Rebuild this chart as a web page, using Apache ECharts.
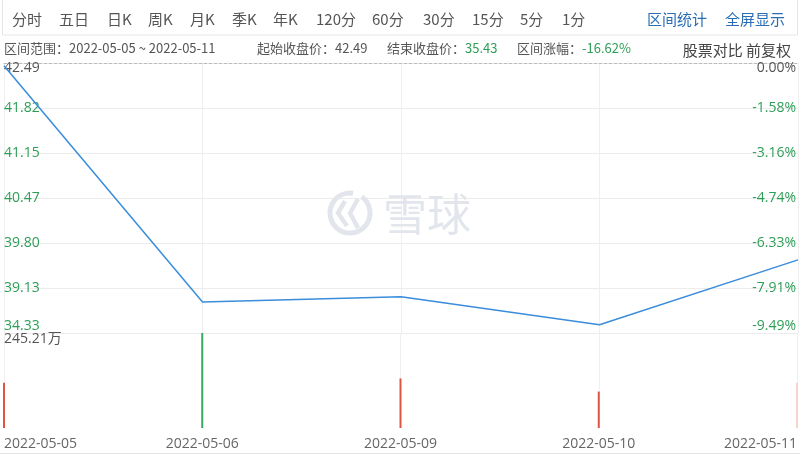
<!DOCTYPE html>
<html>
<head>
<meta charset="utf-8">
<script src="https://cdn.jsdelivr.net/npm/echarts@6/dist/echarts.min.js"></script>
<style>
html,body{margin:0;padding:0;background:#fff;}
#main{width:800px;height:456px;}
</style>
</head>
<body>
<div id="main"></div>
<script>
// ---- data ----
var categories = ['2022-05-05', '2022-05-06', '2022-05-09', '2022-05-10', '2022-05-11'];
var closePrices = [42.45, 38.92, 39.00, 38.58, 39.55];
var volumes = [117, 245.21, 128, 94, 117];          // 万
var volumeUp = [true, false, true, true, true];      // red = up, green = down
var priceTickLabels = ['34.33', '39.13', '39.80', '40.47', '41.15', '41.82', '42.49'];
var pctTickLabels = ['-9.49%', '-7.91%', '-6.33%', '-4.74%', '-3.16%', '-1.58%', '0.00%'];
var priceMin = 38.458, priceMax = 42.49;
var volumeMax = 245.21;
var toolbarItems = [['分时', 12], ['五日', 59], ['日K', 107], ['周K', 148], ['月K', 190], ['季K', 232], ['年K', 273],
  ['120分', 316], ['60分', 372], ['30分', 423], ['15分', 472], ['5分', 520], ['1分', 562]];

var FONT = '"Noto Sans CJK SC", "Microsoft YaHei", sans-serif';
var NUMFONT = '"Open Sans", "Noto Sans CJK SC", sans-serif';
var GREEN = '#2e9e57';
var RED = '#e0553f';

var chart = echarts.init(document.getElementById('main'));

var graphics = [
  {type: 'rect', shape: {x: 2.5, y: -1, width: 795, height: 36}, style: {fill: '#fff', stroke: '#e6e6e6', lineWidth: 1}, z: 0}
];
toolbarItems.forEach(function (t) {
  graphics.push({type: 'text', x: t[1], y: 19, style: {text: t[0], font: '15px ' + FONT, fill: '#555', verticalAlign: 'middle'}});
});
graphics.push({type: 'text', x: 647, y: 19, style: {text: '区间统计', font: '15px ' + FONT, fill: '#2a6db5', verticalAlign: 'middle'}});
graphics.push({type: 'text', x: 725, y: 19, style: {text: '全屏显示', font: '15px ' + FONT, fill: '#2a6db5', verticalAlign: 'middle'}});

graphics.push({type: 'text', x: 4, y: 48, style: {text: '区间范围：' + categories[0] + ' ~ ' + categories[categories.length - 1], font: '13px ' + FONT, fill: '#555', verticalAlign: 'middle'}});
graphics.push({type: 'text', x: 257, y: 48, style: {text: '起始收盘价：42.49', font: '13px ' + FONT, fill: '#555', verticalAlign: 'middle'}});
graphics.push({type: 'text', x: 387, y: 48, style: {text: '结束收盘价：{g|35.43}', font: '13px ' + FONT, fill: '#555', verticalAlign: 'middle',
  rich: {g: {fill: GREEN, font: '13px ' + FONT}}}});
graphics.push({type: 'text', x: 517, y: 48, style: {text: '区间涨幅：{g|-16.62%}', font: '13px ' + FONT, fill: '#555', verticalAlign: 'middle',
  rich: {g: {fill: GREEN, font: '13px ' + FONT}}}});
graphics.push({type: 'text', x: 791, y: 50, style: {text: '股票对比 前复权', font: '15px ' + FONT, fill: '#444', align: 'right', verticalAlign: 'middle'}});

// watermark
var WM = '#e2e6ec';
graphics.push({type: 'arc', shape: {cx: 350, cy: 213, r: 20, startAngle: -Math.PI * 0.3, endAngle: Math.PI * 1.55}, style: {stroke: WM, lineWidth: 5, fill: null}, z: 1});
graphics.push({type: 'polyline', shape: {points: [[345, 201], [338, 213], [347, 226]]}, style: {stroke: WM, lineWidth: 4.5, fill: null}, z: 1});
graphics.push({type: 'polyline', shape: {points: [[358, 199], [350, 213], [358, 228]]}, style: {stroke: WM, lineWidth: 4.5, fill: null}, z: 1});
graphics.push({type: 'text', x: 383, y: 214, style: {text: '雪球', font: '44px ' + FONT, fill: WM, verticalAlign: 'middle'}, z: 1});
// bottom slider baseline
graphics.push({type: 'line', shape: {x1: 0, y1: 453.5, x2: 800, y2: 453.5}, style: {stroke: '#e3e3e3', lineWidth: 1}});

var idxLabelRich = {
  top: {padding: [11, 0, 0, 0], fontSize: 14, fontFamily: NUMFONT},
  bot: {padding: [0, 0, 14, 0], fontSize: 14, fontFamily: NUMFONT},
  mid: {fontSize: 14, fontFamily: NUMFONT}
};

function idxFormatter(arr) {
  return function (v) {
    var i = Math.round(v);
    var s = arr[i];
    if (i === 6) return '{top|' + s + '}';
    if (i === 0) return '{bot|' + s + '}';
    return '{mid|' + s + '}';
  };
}
function idxColor(v) {
  return Math.round(v) === 6 ? '#555' : GREEN;
}

var option = {
  animation: false,
  backgroundColor: '#fff',
  graphic: graphics,
  grid: [
    {left: 4, right: 2, top: 63, height: 270},
    {left: 4, right: 2, top: 333, height: 95}
  ],
  xAxis: [
    {type: 'category', gridIndex: 0, data: categories, boundaryGap: false,
      axisLine: {show: false}, axisTick: {show: false}, axisLabel: {show: false},
      splitLine: {show: true, lineStyle: {color: '#efefef'}}},
    {type: 'category', gridIndex: 1, data: categories, boundaryGap: false,
      axisLine: {show: false}, axisTick: {show: false},
      axisLabel: {show: true, color: '#666', fontSize: 14, fontFamily: NUMFONT, margin: 9, interval: 0,
        alignMinLabel: 'left', alignMaxLabel: 'right'},
      splitLine: {show: true, lineStyle: {color: '#efefef'}}},
    {type: 'category', gridIndex: 0, position: 'top', data: categories, boundaryGap: false,
      axisLine: {show: true, onZero: false, lineStyle: {color: '#bbb', type: [3, 2]}}, axisTick: {show: false}, axisLabel: {show: false},
      splitLine: {show: false}}
  ],
  yAxis: [
    {type: 'value', gridIndex: 0, min: priceMin, max: priceMax, show: false, splitLine: {show: false}},
    {type: 'value', gridIndex: 0, position: 'left', min: 0, max: 6, interval: 1,
      axisLine: {show: false}, axisTick: {show: false},
      axisLabel: {inside: true, margin: 0, formatter: idxFormatter(priceTickLabels), color: idxColor, rich: idxLabelRich, showMinLabel: true, showMaxLabel: true},
      splitLine: {show: true, lineStyle: {color: ['#ececec', '#ececec', '#ececec', '#ececec', '#ececec', '#ececec', 'rgba(0,0,0,0)']}}},
    {type: 'value', gridIndex: 0, position: 'right', min: 0, max: 6, interval: 1,
      axisLine: {show: false}, axisTick: {show: false},
      axisLabel: {inside: true, margin: 2, formatter: idxFormatter(pctTickLabels), color: idxColor, rich: idxLabelRich, showMinLabel: true, showMaxLabel: true},
      splitLine: {show: false}},
    {type: 'value', gridIndex: 1, min: 0, max: volumeMax, interval: volumeMax,
      axisLine: {show: false}, axisTick: {show: false}, splitLine: {show: false},
      axisLabel: {inside: true, margin: 0, color: '#555', fontSize: 14, fontFamily: NUMFONT,
        formatter: function (v) { return v >= volumeMax - 0.001 ? '{top|' + volumeMax.toFixed(2) + '万}' : ''; },
        rich: {top: {padding: [13, 0, 0, 0], fontSize: 14, fontFamily: NUMFONT}}}}
  ],
  series: [
    {type: 'line', xAxisIndex: 0, yAxisIndex: 0, data: closePrices, symbol: 'none',
      lineStyle: {color: '#3a8ddb', width: 1.5}, z: 5},
    {type: 'bar', xAxisIndex: 1, yAxisIndex: 3, barWidth: 2,
      data: volumes.map(function (v, i) {
        var c = volumeUp[i] ? RED : '#3aa85f';
        if (i === volumes.length - 1) c = '#f6d3cc';
        return {value: v, itemStyle: {color: c}};
      })}
  ]
};
chart.setOption(option);
</script>
</body>
</html>
